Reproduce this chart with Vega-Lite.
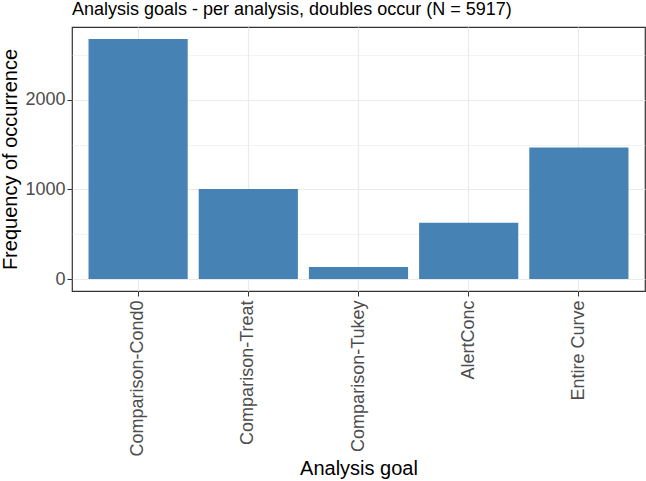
{
  "$schema": "https://vega.github.io/schema/vega-lite/v6.json",
  "autosize": "none",
  "width": 573,
  "height": 264,
  "padding": {"left": 72, "top": 27, "right": 1, "bottom": 190},
  "background": "white",
  "title": {
    "text": "Analysis goals - per analysis, doubles occur (N = 5917)",
    "anchor": "start",
    "frame": "group",
    "font": "Liberation Sans",
    "fontSize": 18,
    "fontWeight": "normal",
    "color": "black",
    "offset": 8
  },
  "config": {
    "view": {"stroke": "#333333", "strokeWidth": 1.2},
    "axis": {
      "labelFont": "Liberation Sans",
      "titleFont": "Liberation Sans",
      "labelFontSize": 18,
      "titleFontSize": 20,
      "titleFontWeight": "normal",
      "labelColor": "#4D4D4D",
      "titleColor": "black",
      "tickColor": "#333333",
      "tickSize": 5,
      "gridColor": "#EBEBEB",
      "domain": false
    }
  },
  "data": {
    "values": [
      {"goal": "Comparison-Cond0", "count": 2680},
      {"goal": "Comparison-Treat", "count": 1005},
      {"goal": "Comparison-Tukey", "count": 134},
      {"goal": "AlertConc", "count": 627},
      {"goal": "Entire Curve", "count": 1469}
    ]
  },
  "encoding": {
    "x": {
      "field": "goal",
      "type": "nominal",
      "sort": null,
      "title": "Analysis goal",
      "scale": {"paddingInner": 0.1, "paddingOuter": 0.15},
      "axis": {
        "labelAngle": -90,
        "labelAlign": "right",
        "labelBaseline": "middle",
        "labelPadding": 4,
        "grid": true,
        "gridWidth": 1.2,
        "bandPosition": 0.5,
        "titlePadding": 2
      }
    }
  },
  "layer": [
    {
      "mark": {"type": "bar", "color": "#4682B4", "opacity": 0},
      "encoding": {
        "y": {
          "field": "count",
          "type": "quantitative",
          "scale": {"domain": [-134, 2814], "nice": false, "zero": false},
          "axis": {
            "values": [500, 1500, 2500],
            "grid": true,
            "gridWidth": 0.6,
            "labels": false,
            "ticks": false,
            "title": null,
            "orient": "right"
          }
        }
      }
    },
    {
      "mark": {"type": "bar", "color": "#4682B4"},
      "encoding": {
        "y": {
          "field": "count",
          "type": "quantitative",
          "title": "Frequency of occurrence",
          "scale": {"domain": [-134, 2814], "nice": false, "zero": false},
          "axis": {
            "values": [0, 1000, 2000],
            "format": "d",
            "grid": true,
            "gridWidth": 1.2,
            "labelPadding": 2,
            "titlePadding": 4
          }
        },
        "y2": {"datum": 0}
      }
    }
  ],
  "resolve": {"axis": {"y": "independent"}}
}
